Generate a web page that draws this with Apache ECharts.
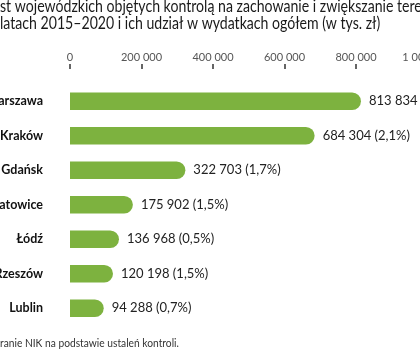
<!DOCTYPE html>
<html>
<head>
<meta charset="utf-8">
<script src="https://cdn.jsdelivr.net/npm/echarts@6/dist/echarts.min.js"></script>
<style>html,body{margin:0;padding:0;background:#fff}#c{width:420px;height:350px}</style>
</head>
<body>
<div id="c"></div>
<script>
const titleLine1 = "st wojewódzkich objętych kontrolą na zachowanie i zwiększanie terenów zieleni";
const titleLine2 = "latach 2015–2020 i ich udział w wydatkach ogółem (w tys. zł)";
const sourceText = "ranie NIK na podstawie ustaleń kontroli.";
const cities = ["Warszawa", "Kraków", "Gdańsk", "Katowice", "Łódź", "Rzeszów", "Lublin"];
const values = [813834, 684304, 322703, 175902, 136968, 120198, 94288];
const shares = ["2,6%", "2,1%", "1,7%", "1,5%", "0,5%", "1,5%", "0,7%"];
const tickValues = [0, 200000, 400000, 600000, 800000, 1000000];

const fmt = v => String(v).replace(/\B(?=(\d{3})+(?!\d))/g, " ");
const FONT = "Lato, 'Open Sans', sans-serif";

const chart = echarts.init(document.getElementById('c'), null, {renderer: 'canvas'});
chart.setOption({
  animation: false,
  backgroundColor: '#ffffff',
  textStyle: {fontFamily: FONT},
  grid: {left: 70, top: 84, width: 357.5, height: 241.5, containLabel: false, outerBoundsMode: 'none'},
  xAxis: {
    type: 'value', position: 'top', offset: 15,
    min: tickValues[0], max: tickValues[tickValues.length - 1], interval: 200000,
    axisLine: {show: false},
    axisTick: {show: true, length: 5, lineStyle: {color: '#333', width: 1.5}},
    splitLine: {show: false},
    axisLabel: {color: '#555', fontSize: 11, margin: 6, fontFamily: FONT,
      showMaxLabel: true, hideOverlap: false, formatter: v => fmt(v)}
  },
  yAxis: {
    type: 'category', inverse: true, data: cities,
    axisLine: {show: false}, axisTick: {show: false},
    axisLabel: {color: '#111', fontSize: 12.5, fontWeight: 'bold', margin: 27, fontFamily: FONT}
  },
  series: [{
    type: 'bar', data: values, barWidth: 17.5,
    itemStyle: {color: '#7db23f', borderRadius: [0, 9, 9, 0]},
    label: {show: true, position: 'right', distance: 8, color: '#222', fontSize: 13,
      fontFamily: FONT,
      formatter: p => fmt(p.value) + ' (' + shares[p.dataIndex] + ')'}
  }],
  graphic: [
    {type: 'text', x: 0, y: -2, scaleX: 0.83, style: {text: titleLine1, fill: '#1a1a1a', fontSize: 17, fontFamily: FONT}},
    {type: 'text', x: 0, y: 15.5, scaleX: 0.83, style: {text: titleLine2, fill: '#1a1a1a', fontSize: 17, fontFamily: FONT}},
    {type: 'text', x: 0, y: 338, scaleX: 0.93, style: {text: sourceText, fill: '#333', fontSize: 11, fontFamily: FONT}}
  ]
});
</script>
</body>
</html>
